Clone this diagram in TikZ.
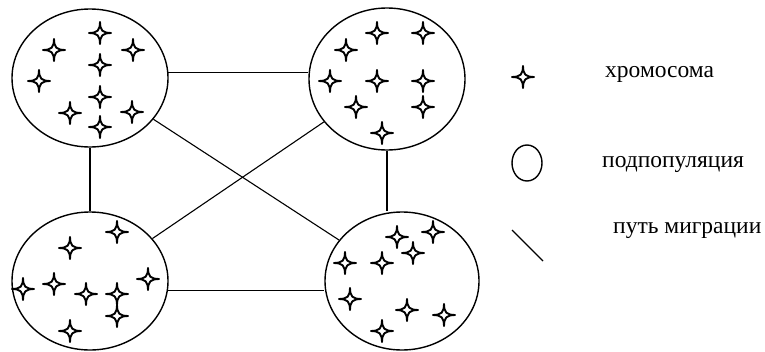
\documentclass[tikz,border=0pt]{standalone}
\usepackage{fontspec}
\setmainfont{Liberation Serif}
\usetikzlibrary{shapes.geometric}
\tikzset{
  popu/.style={draw, line width=1.4pt, ellipse, inner sep=0pt, minimum width=156pt, minimum height=138pt},
  mig/.style={line width=1.1pt},
  chrom/.pic={\draw[line width=1.9pt, fill=white] (0,-11.5) .. controls (0,-2.5) and (2.5,0) .. (11.5,0) .. controls (2.5,0) and (0,2.5) .. (0,11.5) .. controls (0,2.5) and (-2.5,0) .. (-11.5,0) .. controls (-2.5,0) and (0,-2.5) .. cycle;},
  legtext/.style={anchor=base west, inner sep=0pt, font=\fontsize{23.5}{28}\selectfont}
}
\begin{document}
\begin{tikzpicture}[x=1pt,y=-1pt]
\useasboundingbox (0,0) rectangle (765,351);
\node[popu] (tl) at (90,78) {};
\node[popu, minimum height=142pt] (tr) at (387,79) {};
\node[popu] (bl) at (90,281) {};
\node[popu, minimum width=154pt] (br) at (402,281) {};
% connectors
\draw[mig] (tl.4) -- (tl.4 -| tr.west);
\draw[mig] (bl.-7) -- (bl.-7 -| br.west);
\draw[mig] (tl.south) -- (bl.north);
\draw[mig] (tr.south) -- (tr.south |- br.north);
\draw[mig] (tl) -- (br);
\draw[mig] (bl) -- (tr);
% chromosomes TL
\foreach \p in {(100,33),(54,50),(133,50),(100,65),(39,81),(100,97),(70,113),(132,112),(100,127)}
  \pic at \p {chrom};
% TR
\foreach \p in {(377,33),(423,33),(346,50),(330,81),(377,81),(423,81),(356,107),(423,107),(382,133)}
  \pic at \p {chrom};
% BL
\foreach \p in {(117,232),(70,248),(148,279),(54,284),(23,289),(86,294),(117,294),(117,316),(70,331)}
  \pic at \p {chrom};
% BR
\foreach \p in {(397,237),(433,232),(413,253),(345,263),(382,263),(350,299),(407,310),(444,315),(382,331)}
  \pic at \p {chrom};
% legend
\pic at (523,77) {chrom};
\node[legtext] (t1) at (605,77) {хромосома};
\node[draw, line width=1.4pt, ellipse, inner sep=0pt, minimum width=30pt, minimum height=36pt] (lc) at (527,163) {};
\node[legtext] (t2) at (602,167) {подпопуляция};
\coordinate (la) at (512,230);
\coordinate (lb) at (543,261);
\draw[mig] (la) -- (lb);
\node[legtext] (t3) at (613,233) {путь миграции};
\end{tikzpicture}
\end{document}
